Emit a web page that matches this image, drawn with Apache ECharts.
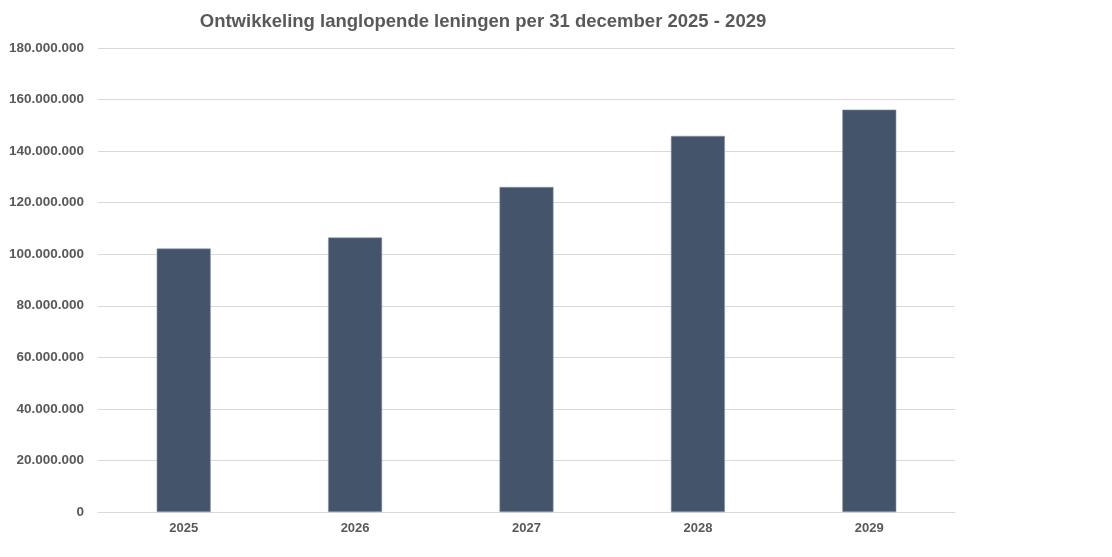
<!DOCTYPE html>
<html>
<head>
<meta charset="utf-8">
<script src="https://cdn.jsdelivr.net/npm/echarts@6/dist/echarts.min.js"></script>
<style>
html,body{margin:0;padding:0;background:#fff;}
#chart{width:1112px;height:557px;}
</style>
</head>
<body>
<div id="chart"></div>
<script>
const titleText = 'Ontwikkeling langlopende leningen per 31 december 2025 - 2029';
const categories = ['2025', '2026', '2027', '2028', '2029'];
const leningen = [102200000, 106500000, 126100000, 145900000, 156100000];

function fmt(v) {
  return String(Math.round(v)).replace(/\B(?=(\d{3})+(?!\d))/g, '.');
}

const chart = echarts.init(document.getElementById('chart'), null, {renderer: 'canvas'});
chart.setOption({
  animation: false,
  backgroundColor: '#ffffff',
  textStyle: {fontFamily: 'Liberation Sans, Arial, sans-serif'},
  title: {
    text: titleText,
    left: 478,
    textAlign: 'center',
    top: 7,
    textStyle: {fontFamily: 'Liberation Sans, Arial, sans-serif', fontSize: 18.5, fontWeight: 'bold', color: '#595959'}
  },
  grid: {left: 98, right: 157, top: 48, bottom: 45, containLabel: false},
  xAxis: {
    type: 'category',
    data: categories,
    axisLine: {show: true, lineStyle: {color: '#d9d9d9', width: 1}},
    axisTick: {show: false},
    axisLabel: {color: '#595959', fontSize: 13, fontWeight: 'bold', margin: 10, fontFamily: 'Liberation Sans, Arial, sans-serif'}
  },
  yAxis: {
    type: 'value',
    min: 0,
    max: 180000000,
    interval: 20000000,
    axisLine: {show: false},
    axisTick: {show: false},
    splitLine: {show: true, lineStyle: {color: '#d9d9d9', width: 1}},
    axisLabel: {color: '#595959', fontSize: 13.5, fontWeight: 'bold', margin: 14, formatter: fmt, fontFamily: 'Liberation Sans, Arial, sans-serif'}
  },
  series: [{
    type: 'bar',
    data: leningen,
    barWidth: '31.5%',
    itemStyle: {color: '#44546A', borderColor: '#8a97aa', borderWidth: 0.6}
  }]
});
</script>
</body>
</html>
